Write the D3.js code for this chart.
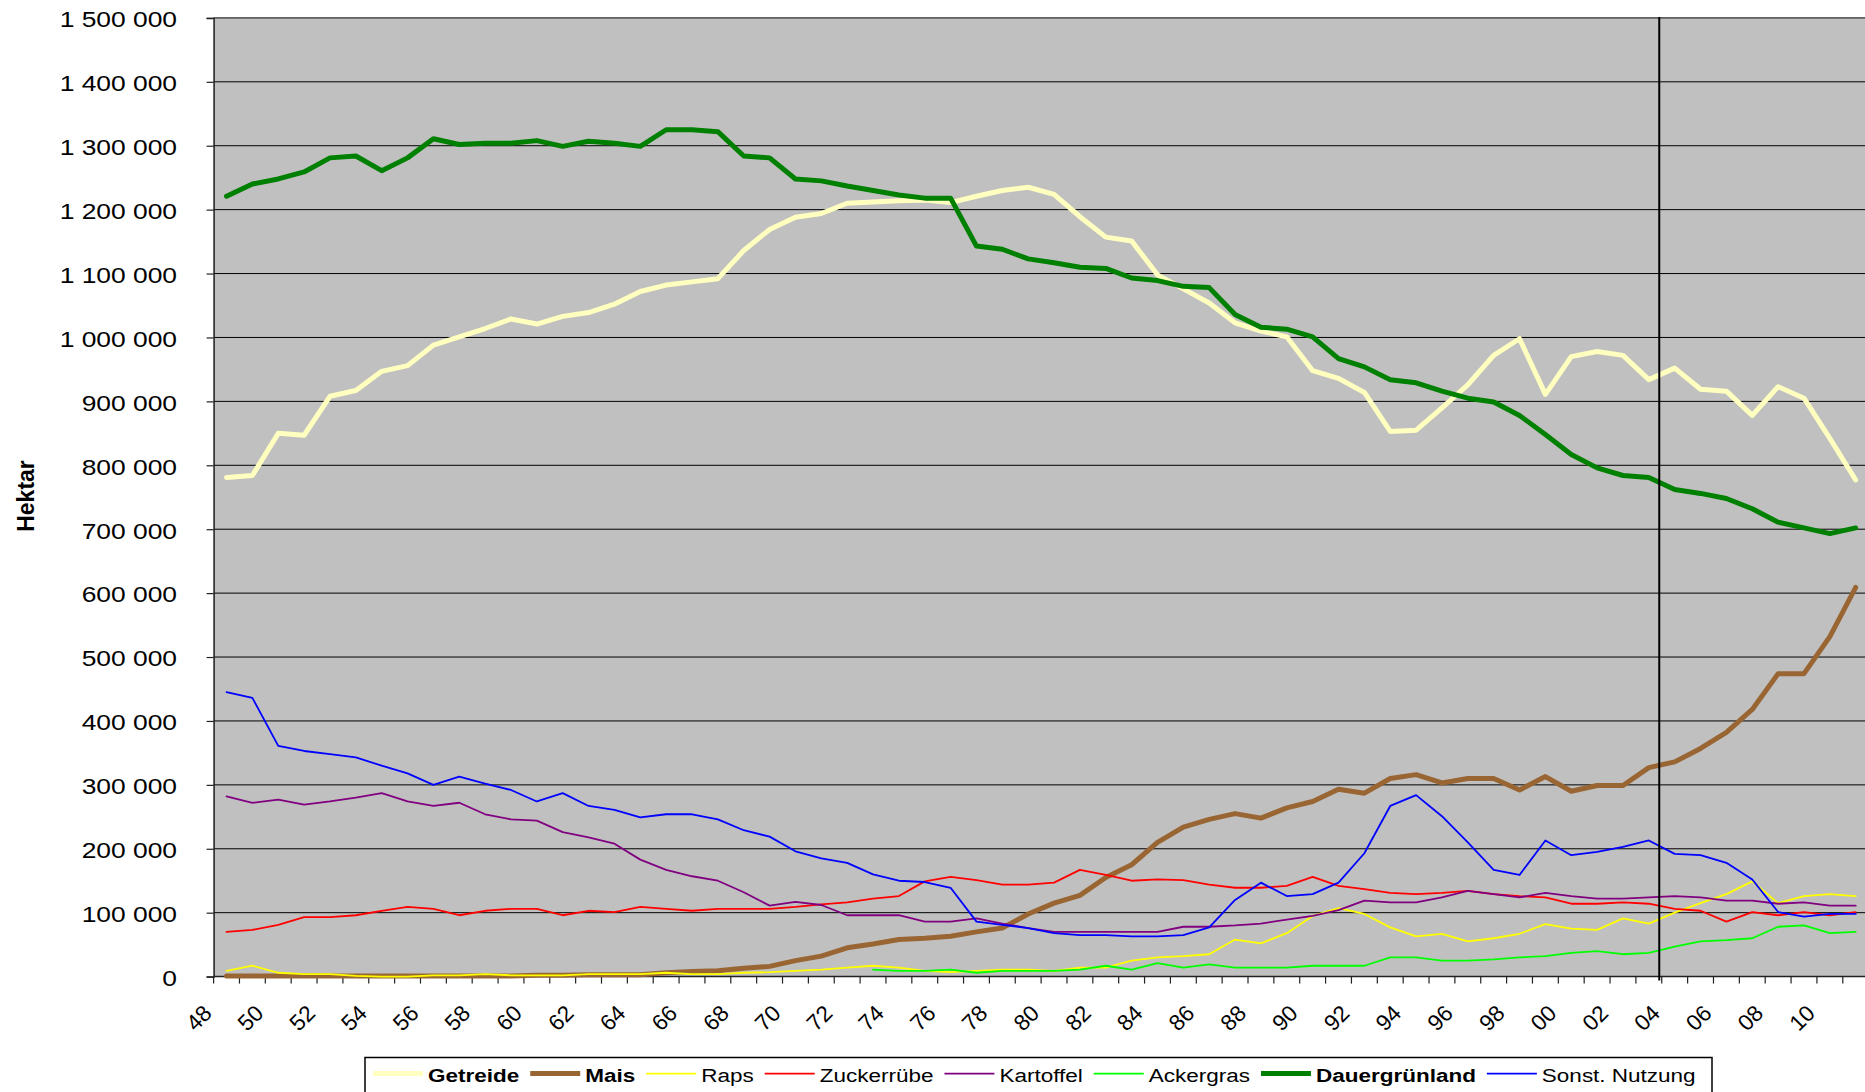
<!DOCTYPE html>
<html lang="de">
<head>
<meta charset="utf-8">
<title>Flächennutzung</title>
<script src="https://d3js.org/d3.v7.min.js"></script>
<style>
  body { margin: 0; background: #fff; overflow: hidden; }
  svg { display: block; }
  text { font-family: "Liberation Sans", Arial, sans-serif; fill: #000; }
</style>
</head>
<body>
<div id="chart"></div>
<script>
// Werte in 1000 Hektar, 1948 - 2011
var years = [1948,1949,1950,1951,1952,1953,1954,1955,1956,1957,1958,1959,1960,1961,1962,1963,
  1964,1965,1966,1967,1968,1969,1970,1971,1972,1973,1974,1975,1976,1977,1978,1979,
  1980,1981,1982,1983,1984,1985,1986,1987,1988,1989,1990,1991,1992,1993,1994,1995,
  1996,1997,1998,1999,2000,2001,2002,2003,2004,2005,2006,2007,2008,2009,2010,2011];

var xLabels = [[1948,"48"],[1950,"50"],[1952,"52"],[1954,"54"],[1956,"56"],[1958,"58"],
  [1960,"60"],[1962,"62"],[1964,"64"],[1966,"66"],[1968,"68"],[1970,"70"],[1972,"72"],
  [1974,"74"],[1976,"76"],[1978,"78"],[1980,"80"],[1982,"82"],[1984,"84"],[1986,"86"],
  [1988,"88"],[1990,"90"],[1992,"92"],[1994,"94"],[1996,"96"],[1998,"98"],[2000,"00"],
  [2002,"02"],[2004,"04"],[2006,"06"],[2008,"08"],[2010,"10"]];

var yTicks = [0,100,200,300,400,500,600,700,800,900,1000,1100,1200,1300,1400,1500];
var yTickLabels = ["0","100 000","200 000","300 000","400 000","500 000","600 000","700 000",
  "800 000","900 000","1 000 000","1 100 000","1 200 000","1 300 000","1 400 000","1 500 000"];

var getreide = [781,784,850,847,908,917,947,956,988,1001,1014,1029,1021,1033,1039,1052,1072,1082,1087,1092,1136,
  1169,1188,1194,1210,1212,1214,1215,1211,1221,1230,1235,1224,1189,1157,1151,1098,1076,1054,1023,1010,1001,
  948,936,914,853,855,890,926,972,998,911,970,978,972,934,952,919,916,878,923,905,842,777];
var mais = [1,1,1,1,1,1,1,1,1,1,1,1,2,2,3,3,3,6,8,9,13,
  16,25,32,45,51,58,60,63,70,76,98,115,127,155,175,210,234,246,255,248,264,
  274,293,287,310,316,303,310,310,292,313,290,299,299,327,336,357,382,418,474,474,532,609];
var raps = [9,17,6,4,4,1,0,0,2,2,4,2,2,2,4,4,4,6,4,4,6,
  7,9,11,14,17,14,9,7,9,11,11,9,14,14,25,30,32,35,58,52,68,
  95,107,98,77,63,67,55,60,67,82,75,73,91,83,100,115,129,149,115,126,129,126];
var zuckerruebe = [70,73,81,93,93,96,103,109,106,96,103,106,106,96,103,101,109,106,103,106,106,
  106,109,113,116,122,126,149,156,151,144,144,147,167,159,150,152,151,144,139,139,142,
  156,142,137,131,129,131,134,129,126,124,114,114,116,114,106,103,86,101,96,101,96,101];
var kartoffel = [282,272,277,269,274,280,287,274,267,272,254,246,244,226,218,208,183,167,157,150,132,
  111,117,112,96,96,96,86,86,91,83,76,70,70,70,70,70,78,78,80,83,89,
  95,104,119,116,116,124,134,129,124,131,126,122,122,124,126,124,119,119,114,116,111,111];
var ackergras = [null,null,null,null,null,null,null,null,null,null,null,null,null,null,null,null,
  null,null,null,null,null,null,null,null,null,
  11,9,9,11,6,9,9,9,11,17,11,21,14,19,14,14,14,
  17,17,17,30,30,25,25,27,30,32,37,40,35,37,47,55,57,60,78,80,68,70];
var dauergruenland = [1221,1240,1248,1259,1281,1284,1261,1281,1311,1302,1304,1304,1308,1299,1307,1304,1299,1325,1325,1322,1284,
  1281,1248,1245,1237,1230,1223,1218,1218,1143,1138,1123,1117,1110,1108,1093,1089,1080,1078,1036,1016,1013,
  1001,967,954,934,929,916,905,899,878,848,817,796,784,781,762,756,748,732,711,702,693,702];
var sonstNutzung = [445,436,361,353,348,343,330,318,300,313,302,292,274,287,267,261,249,254,254,246,229,
  219,196,185,178,160,150,148,139,86,81,76,68,65,65,63,63,65,77,120,147,126,
  129,147,193,267,284,251,210,167,159,213,190,195,203,213,192,190,178,152,101,94,98,98];

var series = [
  {name: "Getreide", values: getreide, color: "#ffffc0", width: 5, bold: true},
  {name: "Mais", values: mais, color: "#996633", width: 5, bold: true},
  {name: "Raps", values: raps, color: "#ffff00", width: 1.8, bold: false},
  {name: "Zuckerrübe", values: zuckerruebe, color: "#ff0000", width: 1.8, bold: false},
  {name: "Kartoffel", values: kartoffel, color: "#800080", width: 1.8, bold: false},
  {name: "Ackergras", values: ackergras, color: "#00ff00", width: 1.8, bold: false},
  {name: "Dauergrünland", values: dauergruenland, color: "#008000", width: 5, bold: true},
  {name: "Sonst. Nutzung", values: sonstNutzung, color: "#0000ff", width: 1.8, bold: false}
];

var width = 1865, height = 1092;
var plotLeft = 213.6, band = 25.86, plotTop = 17.9, plotBottom = 976.6;
var plotRight = plotLeft + band * years.length;
var textStretch = 1.2;

var x = d3.scaleBand().domain(years).range([plotLeft, plotRight]);
var y = d3.scaleLinear().domain([0, 1500]).range([plotBottom, plotTop]);

var svg = d3.select("#chart").append("svg")
  .attr("width", width)
  .attr("height", height);

// Plotfläche
svg.append("rect")
  .attr("x", plotLeft)
  .attr("y", plotTop)
  .attr("width", plotRight - plotLeft)
  .attr("height", plotBottom - plotTop)
  .attr("fill", "#c0c0c0");

// Gitterlinien
svg.append("g")
  .selectAll("line")
  .data(yTicks.slice(1))
  .join("line")
  .attr("x1", plotLeft)
  .attr("x2", plotRight)
  .attr("y1", d => y(d))
  .attr("y2", d => y(d))
  .attr("stroke", "#000")
  .attr("stroke-width", 1);

// y-Achse
var yAxis = svg.append("g")
  .attr("transform", "translate(" + plotLeft + ",0)")
  .call(d3.axisLeft(y).tickValues(yTicks).tickSize(7).tickFormat((d, i) => yTickLabels[i]));
yAxis.select(".domain").attr("stroke", "#222").attr("stroke-width", 1.5);
yAxis.selectAll(".tick line").attr("stroke", "#222").attr("stroke-width", 1.2);
yAxis.selectAll(".tick text")
  .attr("font-size", 22)
  .attr("font-family", "Liberation Sans, Arial, sans-serif")
  .attr("x", -(plotLeft - 177) / textStretch)
  .attr("dy", "0.4em")
  .attr("transform", "scale(" + textStretch + ",1)");

// x-Achse
svg.append("line")
  .attr("x1", plotLeft)
  .attr("x2", plotRight)
  .attr("y1", plotBottom)
  .attr("y2", plotBottom)
  .attr("stroke", "#222")
  .attr("stroke-width", 1.5);

svg.append("g")
  .selectAll("line")
  .data(years)
  .join("line")
  .attr("x1", d => x(d))
  .attr("x2", d => x(d))
  .attr("y1", plotBottom)
  .attr("y2", plotBottom + 7)
  .attr("stroke", "#222")
  .attr("stroke-width", 1.2);

svg.append("g")
  .selectAll("text")
  .data(xLabels)
  .join("text")
  .attr("transform", d => "translate(" + (x(d[0]) - 0.5) + "," + 1014.6 + ") rotate(-45)")
  .attr("text-anchor", "end")
  .attr("font-size", 22.5)
  .text(d => d[1]);

// Achsentitel
svg.append("text")
  .attr("transform", "translate(34,496) rotate(-90)")
  .attr("text-anchor", "middle")
  .attr("font-size", 23)
  .attr("font-weight", "bold")
  .text("Hektar");

// Linien
var line = d3.line()
  .defined(d => d != null)
  .x((d, i) => x(years[i]) + x.bandwidth() / 2)
  .y(d => y(d));

svg.append("g")
  .selectAll("path")
  .data(series)
  .join("path")
  .attr("d", d => line(d.values))
  .attr("fill", "none")
  .attr("stroke", d => d.color)
  .attr("stroke-width", d => d.width)
  .attr("stroke-linejoin", "round")
  .attr("stroke-linecap", "round");

// Markierung 2004
svg.append("line")
  .attr("x1", x(2004) - 2.5)
  .attr("x2", x(2004) - 2.5)
  .attr("y1", plotTop - 1)
  .attr("y2", plotBottom + 4)
  .attr("stroke", "#000")
  .attr("stroke-width", 2);

// Legende
var legend = svg.append("g");
legend.append("rect")
  .attr("x", 365)
  .attr("y", 1057.5)
  .attr("width", 1712 - 365)
  .attr("height", 60)
  .attr("fill", "#fff")
  .attr("stroke", "#000")
  .attr("stroke-width", 1.5);

var lx = 373;
series.forEach(function(s) {
  legend.append("line")
    .attr("x1", lx)
    .attr("x2", lx + 50)
    .attr("y1", 1073.6)
    .attr("y2", 1073.6)
    .attr("stroke", s.color)
    .attr("stroke-width", s.width);
  var t = legend.append("text")
    .attr("transform", "translate(" + (lx + 55) + ",1082) scale(1.25,1)")
    .attr("font-size", 18)
    .attr("font-weight", s.bold ? "bold" : "normal")
    .text(s.name);
  lx = lx + 55 + t.node().getComputedTextLength() * 1.25 + 11;
});
</script>
</body>
</html>
